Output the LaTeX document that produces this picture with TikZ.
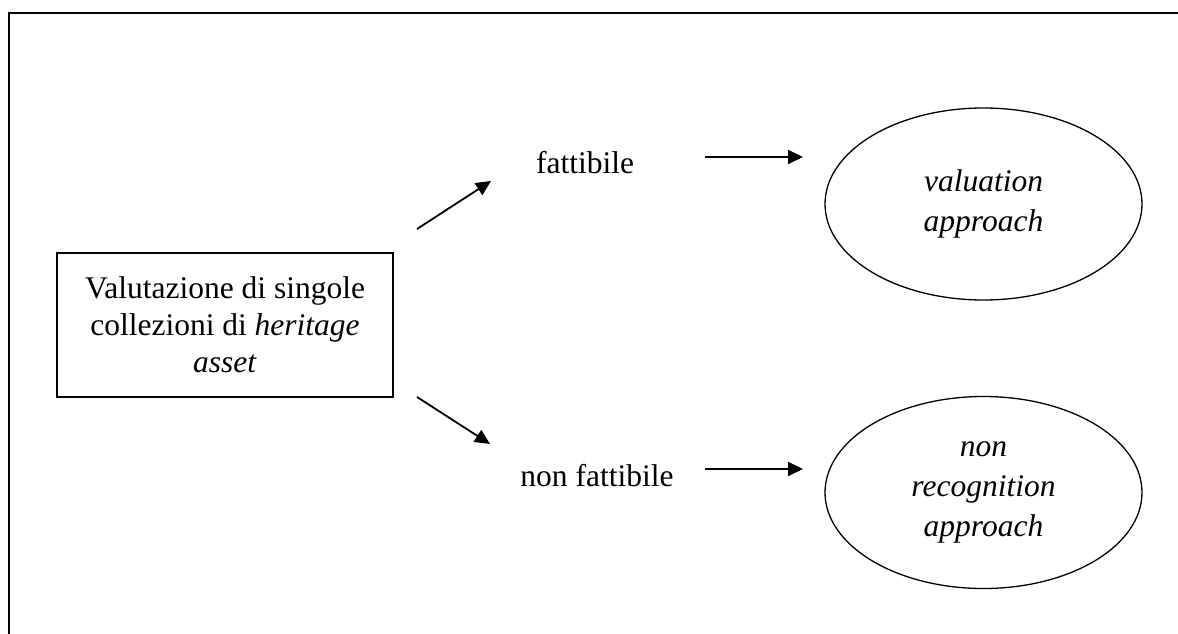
\documentclass[tikz,border=0pt]{standalone}
\usepackage{fontspec}
\setmainfont{Liberation Serif}
\usetikzlibrary{arrows.meta,shapes.geometric}

\tikzset{
  txt/.style={font=\fontsize{31.5}{37}\selectfont, inner sep=0pt},
  framebox/.style={draw, line width=1.5pt, minimum width=336pt, minimum height=144pt,
                   align=center, inner sep=0pt, font=\fontsize{31.5}{37}\selectfont},
  oval/.style={draw, ellipse, line width=1.3pt, minimum width=317pt, minimum height=192pt,
               inner sep=0pt, align=center, font=\fontsize{31.5}{40}\selectfont\itshape},
  arr/.style={line width=1.8pt, -{Triangle[length=15pt,width=14pt]}}
}

\begin{document}
\begin{tikzpicture}[x=1pt,y=-1pt]
  \path[use as bounding box, clip] (0,0) rectangle (1178,634);
  \fill[white] (0,0) rectangle (1178,634);

  % outer page frame, running off the right and bottom edges
  \draw[line width=2pt] (9,13) rectangle (1200,660);

  % source box
  \node[framebox] (src) at (225,325)
    {Valutazione di singole\\collezioni di \textit{heritage}\\\textit{asset}};

  % branch labels
  \node[txt, anchor=base] (feas) at (585,173) {fattibile};
  \node[txt, anchor=base] (nonfeas) at (597,486) {non fattibile};

  % outcomes
  \node[oval] (val) at (983.5,204) {valuation\\approach};
  \node[oval] (nonrec) at (983.5,492.5) {non\\recognition\\approach};

  % arrow end points
  \coordinate (upA) at (417,229);
  \coordinate (upB) at (491,181);
  \coordinate (dnA) at (417,397);
  \coordinate (dnB) at (490,444);
  \coordinate (hA1) at (705,157);
  \coordinate (hB1) at (803,157);
  \coordinate (hA2) at (705,469);
  \coordinate (hB2) at (803,469);

  \draw[arr] (upA) -- (upB);
  \draw[arr] (dnA) -- (dnB);
  \draw[arr] (hA1) -- (hB1);
  \draw[arr] (hA2) -- (hB2);
\end{tikzpicture}
\end{document}
